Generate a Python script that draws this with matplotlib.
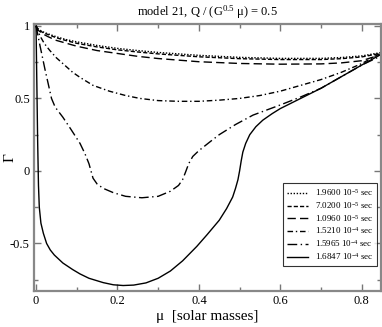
import matplotlib
matplotlib.use('Agg')
import matplotlib.pyplot as plt
from matplotlib.ticker import MultipleLocator

plt.rcParams['font.family'] = ['Liberation Serif', 'DejaVu Serif']
plt.rcParams['mathtext.fontset'] = 'custom'
plt.rcParams['mathtext.rm'] = 'Liberation Serif'
plt.rcParams['mathtext.it'] = 'Liberation Serif:italic'

# curves
x_a = [0, 0.005, 0.01, 0.02, 0.03, 0.05, 0.075, 0.1, 0.15, 0.2, 0.25, 0.3, 0.4, 0.5, 0.6, 0.7,
       0.75, 0.8, 0.845]
y_a = [1, 0.98, 0.97, 0.955, 0.945, 0.925, 0.905, 0.89, 0.865, 0.845, 0.83, 0.817, 0.797,
       0.783, 0.776, 0.776, 0.782, 0.793, 0.815]
y_b = [1, 0.975, 0.965, 0.95, 0.94, 0.918, 0.898, 0.88, 0.855, 0.835, 0.82, 0.807, 0.787,
       0.774, 0.768, 0.768, 0.774, 0.786, 0.81]
y_c = [1, 0.97, 0.96, 0.94, 0.925, 0.9, 0.88, 0.86, 0.83, 0.81, 0.79, 0.775, 0.753, 0.741,
       0.736, 0.738, 0.745, 0.76, 0.80]

x_d = [0, 0.005, 0.012, 0.02, 0.034, 0.05, 0.07, 0.09, 0.108, 0.14, 0.18, 0.22, 0.255, 0.3,
       0.35, 0.40, 0.45, 0.5, 0.55, 0.6, 0.65, 0.7, 0.75, 0.8, 0.845]
y_d = [1, 0.96, 0.92, 0.88, 0.83, 0.78, 0.73, 0.68, 0.645, 0.59, 0.55, 0.52, 0.50, 0.485,
       0.48, 0.48, 0.488, 0.50, 0.52, 0.55, 0.59, 0.63, 0.68, 0.74, 0.81]

x_e = [0, 0.005, 0.01, 0.016, 0.022, 0.03, 0.038, 0.047, 0.066, 0.085, 0.108, 0.12, 0.13,
       0.135, 0.14, 0.15, 0.165, 0.19, 0.22, 0.26, 0.30, 0.33, 0.35, 0.36, 0.367, 0.375,
       0.385, 0.40, 0.427, 0.45, 0.49, 0.533, 0.6, 0.65, 0.7, 0.75, 0.8, 0.845]
y_e = [1, 0.93, 0.86, 0.78, 0.70, 0.60, 0.50, 0.44, 0.37, 0.29, 0.19, 0.12, 0.05,
       0.0, -0.05, -0.09, -0.12, -0.15, -0.175, -0.185, -0.175, -0.14, -0.10, -0.06, -0.01, 0.05,
       0.10, 0.14, 0.20, 0.25, 0.32, 0.385, 0.455, 0.51, 0.57, 0.65, 0.73, 0.79]

x_f = [0, 0.002, 0.004, 0.006, 0.008, 0.012, 0.018, 0.026, 0.035, 0.045, 0.066, 0.09, 0.108,
       0.13, 0.165, 0.19, 0.214, 0.24, 0.27, 0.30, 0.33, 0.36, 0.395, 0.42, 0.45, 0.468,
       0.483, 0.49, 0.496, 0.5, 0.504, 0.508, 0.515, 0.525, 0.54, 0.557, 0.58, 0.6, 0.65,
       0.7, 0.75, 0.8, 0.845]
y_f = [1, 0.6, 0.2, -0.1, -0.25, -0.36, -0.43, -0.50, -0.545, -0.58, -0.635, -0.68, -0.71,
       -0.74, -0.77, -0.785, -0.79, -0.787, -0.772, -0.74, -0.69, -0.62, -0.52, -0.44, -0.34, -0.26,
       -0.18, -0.12, -0.06, 0.0, 0.07, 0.13, 0.19, 0.25, 0.305, 0.35, 0.395, 0.43, 0.50,
       0.57, 0.65, 0.73, 0.80]

labels = [r'1.9600 10$^{-5}$ sec', r'7.0200 10$^{-5}$ sec', r'1.0960 10$^{-5}$ sec',
          r'1.5210 10$^{-4}$ sec', r'1.5965 10$^{-4}$ sec', r'1.6847 10$^{-4}$ sec']

fig = plt.figure(figsize=(3.82, 3.27), dpi=100)
ax = fig.add_axes([0.089, 0.11, 0.908, 0.817])

lw = 1.0
ax.plot(x_a, y_a, color='black', lw=lw, dashes=(1, 1.2), label=labels[0])
ax.plot(x_a, y_b, color='black', lw=lw, dashes=(3, 1.5), label=labels[1])
ax.plot(x_a, y_c, color='black', lw=lw, dashes=(6, 3), label=labels[2])
ax.plot(x_d, y_d, color='black', lw=lw, dashes=(4, 2, 1, 2), label=labels[3])
ax.plot(x_e, y_e, color='black', lw=lw, dashes=(7, 2.5, 1, 2.5), label=labels[4])
ax.plot(x_f, y_f, color='black', lw=lw, label=labels[5])

ax.set_xlim(-0.005, 0.847)
ax.set_ylim(-0.828, 1.014)
ax.xaxis.set_minor_locator(MultipleLocator(0.1))
ax.yaxis.set_minor_locator(MultipleLocator(0.25))
ax.set_yticks([-0.5, 0, 0.5, 1])
ax.set_yticklabels(['-0.5', '0', '0.5', '1'])
ax.set_xticks([0, 0.2, 0.4, 0.6, 0.8])
ax.set_xticklabels(['0', '0.2', '0.4', '0.6', '0.8'])

ax.tick_params(which='both', direction='in', top=True, right=True,
               labelsize=9, color='#777777', pad=3)
ax.tick_params(which='major', length=5, width=1)
ax.tick_params(which='minor', length=3, width=1)
for s in ax.spines.values():
    s.set_color('#888888')
    s.set_linewidth(1.6)

ax.set_title(r'model 21, Q / (G$^{0.5}$ μ) = 0.5', fontsize=9, pad=6)
ax.set_xlabel('μ  [solar masses]', fontsize=11, labelpad=2)
ax.set_ylabel('Γ', fontsize=11)
ax.yaxis.set_label_coords(-0.05, 0.5)

leg = ax.legend(loc='lower right', bbox_to_anchor=(0.988, 0.095), fontsize=6.5,
                frameon=True, fancybox=False, handlelength=2.4, handletextpad=0.7,
                labelspacing=0.2, borderpad=0.4, borderaxespad=0)
leg.get_frame().set_edgecolor('black')
leg.get_frame().set_linewidth(0.8)

fig.savefig('out.png', dpi=100)
